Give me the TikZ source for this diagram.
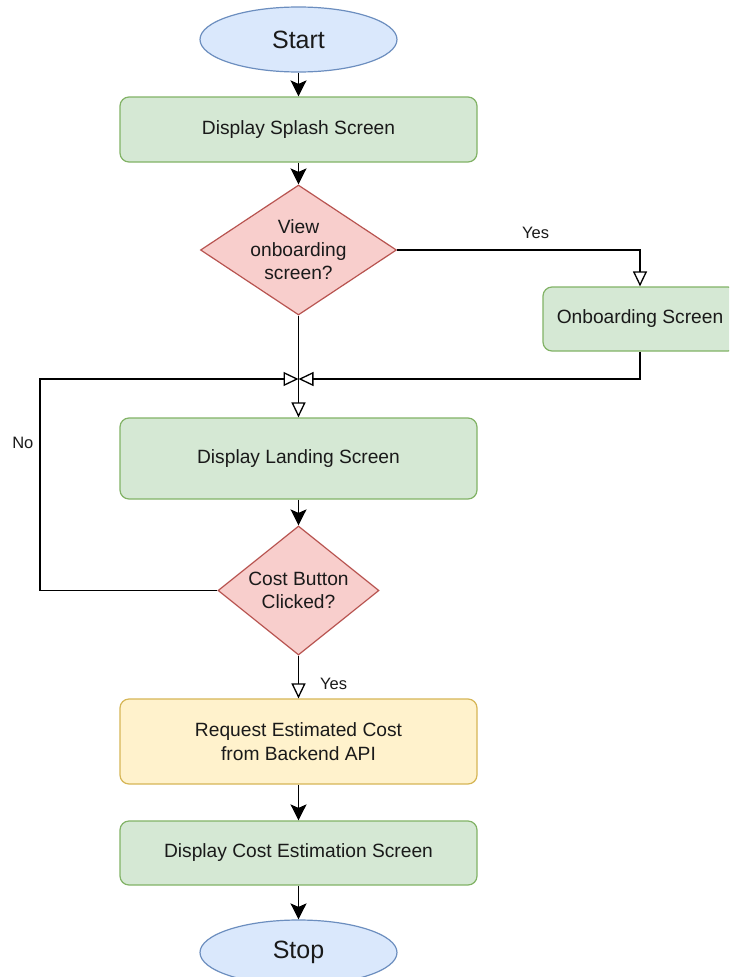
\documentclass[tikz,border=0pt]{standalone}
\usepackage{fontspec}
\setmainfont{Liberation Sans}
\usetikzlibrary{shapes.geometric,arrows.meta}
\definecolor{gfill}{HTML}{D5E8D4}
\definecolor{gline}{HTML}{82B366}
\definecolor{rfill}{HTML}{F8CECC}
\definecolor{rline}{HTML}{B85450}
\definecolor{bfill}{HTML}{DAE8FC}
\definecolor{bline}{HTML}{6C8EBF}
\definecolor{yfill}{HTML}{FFF2CC}
\definecolor{yline}{HTML}{D6B656}
\definecolor{txt}{HTML}{1A1A1A}
\tikzset{
  term/.style={ellipse, draw=bline, fill=bfill, line width=1.2pt, minimum width=197pt, minimum height=65pt, inner sep=0pt, text=txt, font=\fontsize{25}{30}\selectfont},
  proc/.style={rectangle, rounded corners=9pt, draw=gline, fill=gfill, line width=1.2pt, minimum width=357pt, inner sep=0pt, align=center, text=txt, font=\fontsize{19.2}{24.5}\selectfont},
  yproc/.style={proc, draw=yline, fill=yfill},
  decide/.style={diamond, draw=rline, fill=rfill, line width=1.2pt, inner sep=0pt, align=center, text=txt, font=\fontsize{19.2}{23}\selectfont},
  farrow/.style={draw=black, line width=1.5pt, -{Stealth[length=16pt, width=16pt, inset=3.5pt]}},
  oarrow/.style={draw=black, line width=1.3pt, -{Triangle[open, length=15pt, width=14pt, fill=white]}},
  lbl/.style={text=txt, font=\fontsize{16.5}{20}\selectfont, inner sep=0pt},
}
\begin{document}
\begin{tikzpicture}[x=1pt, y=-1pt]
\useasboundingbox (0,0) rectangle (729,977);
\clip (0,0) rectangle (729,977);
\fill[white] (0,0) rectangle (729,977);

\node[term] (start) at (298.5,39.5) {Start};
\node[proc, minimum height=65pt] (splash) at (298.5,129.5) {Display Splash Screen};
\node[decide, minimum width=196pt, minimum height=130pt, shape aspect=1.5] (d1) at (298.5,250) {View\\onboarding\\screen?};
\node[proc, minimum width=194pt, minimum height=64pt] (onb) at (640,319) {Onboarding Screen};
\coordinate (j) at (298.5,379);
\coordinate (nl) at (40,379);
\node[proc, minimum height=81pt] (landing) at (298.5,458.5) {Display Landing Screen};
\node[decide, minimum width=161pt, minimum height=129pt, shape aspect=1.25] (d2) at (298.5,590.5) {Cost Button\\Clicked?};
\node[yproc, minimum height=85pt] (request) at (298.5,741.5) {Request Estimated Cost\\from Backend API};
\node[proc, minimum height=64pt] (cost) at (298.5,853) {Display Cost Estimation Screen};
\node[term] (stop) at (298.5,952.5) {Stop};

\draw[farrow] (start) -- (splash);
\draw[farrow] (splash) -- (d1);
\draw[oarrow] (d1.east) -| node[lbl, pos=0.285, above=11pt] {Yes} (onb.north);
\draw[oarrow] (d1.south) -- (landing.north);
\draw[oarrow] (onb.south) |- (j);
\draw[oarrow] (d2.west) -| node[lbl, pos=0.85, left=6pt] {No} (nl) -- (j);
\draw[farrow] (landing) -- (d2);
\draw[oarrow] (d2.south) -- node[lbl, pos=0.66, right=21pt] {Yes} (request.north);
\draw[farrow] (request) -- (cost);
\draw[farrow] (cost) -- (stop);
\end{tikzpicture}
\end{document}
